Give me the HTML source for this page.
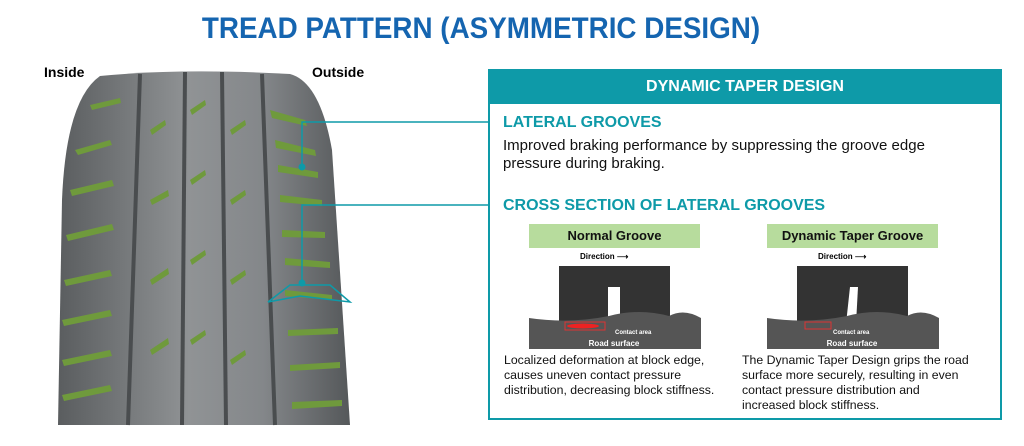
<!DOCTYPE html>
<html><head><style>
body{margin:0;width:1024px;height:446px;background:#fff;position:relative;font-family:"Liberation Sans",sans-serif;overflow:hidden}
.a{position:absolute}
h1{position:absolute;left:0;width:962px;top:12px;margin:0;text-align:center;color:#1565b0;font-size:30px;font-weight:bold;white-space:nowrap;transform:scaleX(0.927);transform-origin:481px 0}
.lab{background:#b7dc9d;text-align:center;font-weight:bold;font-size:13px;line-height:24px;color:#111}
.cap{font-size:12.3px;line-height:15px;color:#111;font-weight:500;white-space:nowrap}
</style></head><body>
<h1>TREAD PATTERN (ASYMMETRIC DESIGN)</h1>
<div class="a" style="left:44px;top:64px;font-weight:bold;font-size:14px">Inside</div>
<div class="a" style="left:312px;top:64px;font-weight:bold;font-size:14px">Outside</div>
<svg class="a" style="left:0;top:0" width="490" height="446">
<defs><linearGradient id="g" x1="0" x2="1"><stop offset="0" stop-color="#5a5d5f"/><stop offset="0.45" stop-color="#909395"/><stop offset="0.7" stop-color="#84878a"/><stop offset="1" stop-color="#55585a"/></linearGradient></defs>
<path d="M58 425 L62 200 Q66 100 100 76 Q180 68 290 74 Q320 82 332 150 L350 425 Z" fill="url(#g)"/>
<g stroke="#4a4d4f" stroke-width="4" fill="none">
<path d="M140 74 L128 425"/><path d="M185 72 L182 425"/><path d="M222 72 L226 425"/><path d="M262 74 L275 425"/>
</g>
<g fill="#6f9a3c">
<polygon points="75,150 110,140 112,145 78,155"/><polygon points="70,190 112,180 114,186 72,196"/><polygon points="66,235 112,224 114,230 68,241"/><polygon points="64,280 110,270 112,276 66,286"/><polygon points="62,320 110,310 112,316 64,326"/><polygon points="62,360 110,350 112,356 64,366"/><polygon points="62,395 110,385 112,391 64,401"/>
<polygon points="90,105 120,98 121,103 92,110"/>
<polygon points="270,110 305,120 307,126 272,118"/><polygon points="275,140 315,150 316,156 276,148"/><polygon points="278,165 318,172 318,178 278,172"/><polygon points="280,195 322,200 322,206 280,202"/><polygon points="282,230 325,232 325,238 282,237"/><polygon points="285,258 330,262 330,268 285,265"/><polygon points="285,290 332,295 332,300 285,296"/><polygon points="288,330 338,328 338,334 288,336"/><polygon points="290,365 340,362 340,368 290,371"/><polygon points="292,402 342,400 342,406 292,409"/>
<polygon points="150,130 165,120 166,125 152,135"/><polygon points="150,200 168,190 169,196 152,205"/><polygon points="150,280 168,268 169,274 152,285"/><polygon points="150,350 168,338 169,344 152,355"/>
<polygon points="190,110 205,100 206,105 192,115"/><polygon points="190,180 205,170 206,175 192,185"/><polygon points="190,260 205,250 206,255 192,265"/><polygon points="190,340 205,330 206,335 192,345"/>
<polygon points="230,130 245,120 246,125 232,135"/><polygon points="230,200 245,190 246,195 232,205"/><polygon points="230,280 245,270 246,275 232,285"/><polygon points="230,360 245,350 246,355 232,365"/>
</g>
<g stroke="#0e9aa8" stroke-width="1.5" fill="none">
<path d="M302 165 V122 H490"/><path d="M302 283 V205 H490"/>
<path d="M268 302 L290 285 H330 L350 302 L300 296 Z"/>
</g>
<circle cx="302" cy="167" r="3.5" fill="#0e9aa8"/><circle cx="302" cy="283" r="3.5" fill="#0e9aa8"/>
</svg>
<div class="a" style="left:488px;top:69px;width:514px;height:351px;border:2px solid #0e9aa8;box-sizing:border-box"></div>
<div class="a" style="left:488px;top:69px;width:514px;height:35px;background:#0e9aa8;color:#fff;font-weight:bold;font-size:16px;line-height:35px;text-align:center">DYNAMIC TAPER DESIGN</div>
<div class="a" style="left:503px;top:114px;color:#0e9aa8;font-weight:bold;font-size:16px">LATERAL GROOVES</div>
<div class="a" style="left:503px;top:137px;font-size:15px;line-height:18px;color:#111;font-weight:500;white-space:nowrap">Improved braking performance by suppressing the groove edge<br>pressure during braking.</div>
<div class="a" style="left:503px;top:197px;color:#0e9aa8;font-weight:bold;font-size:16px">CROSS SECTION OF LATERAL GROOVES</div>
<div class="a lab" style="left:529px;top:224px;width:171px">Normal Groove</div>
<div class="a lab" style="left:767px;top:224px;width:171px">Dynamic Taper Groove</div>
<div class="a" style="left:580px;top:252px;font-size:8px;font-weight:bold">Direction ⟶</div>
<div class="a" style="left:818px;top:252px;font-size:8px;font-weight:bold">Direction ⟶</div>
<svg class="a" style="left:529px;top:266px" width="172" height="83">
<rect x="30" y="0" width="111" height="55" fill="#333"/>
<rect x="79" y="21" width="12" height="40" fill="#fff"/>
<path d="M0 52 Q40 58 80 50 Q110 42 140 50 Q155 42 172 52 V83 H0Z" fill="#555"/>
<rect x="36" y="56" width="40" height="8" fill="none" stroke="#d33" stroke-width="1"/>
<ellipse cx="54" cy="60" rx="16" ry="2.5" fill="#e22"/>
<text x="86" y="68" font-size="6" fill="#fff" font-weight="bold" font-family="Liberation Sans">Contact area</text>
<text x="85" y="80" text-anchor="middle" font-size="8" fill="#fff" font-weight="bold" font-family="Liberation Sans">Road surface</text>
</svg>
<svg class="a" style="left:767px;top:266px" width="172" height="83">
<rect x="30" y="0" width="111" height="55" fill="#333"/>
<polygon points="83,21 91,21 89,58 79,58" fill="#fff"/>
<path d="M0 52 Q40 58 80 50 Q110 42 140 50 Q155 42 172 52 V83 H0Z" fill="#555"/>
<rect x="38" y="56" width="26" height="7" fill="none" stroke="#d33" stroke-width="1"/>
<text x="66" y="68" font-size="6" fill="#fff" font-weight="bold" font-family="Liberation Sans">Contact area</text>
<text x="85" y="80" text-anchor="middle" font-size="8" fill="#fff" font-weight="bold" font-family="Liberation Sans">Road surface</text>
</svg>
<div class="a cap" style="left:504px;top:353px">Localized deformation at block edge,<br>causes uneven contact pressure<br>distribution, decreasing block stiffness.</div>
<div class="a cap" style="left:742px;top:353px">The Dynamic Taper Design grips the road<br>surface more securely, resulting in even<br>contact pressure distribution and<br>increased block stiffness.</div>
</body></html>
